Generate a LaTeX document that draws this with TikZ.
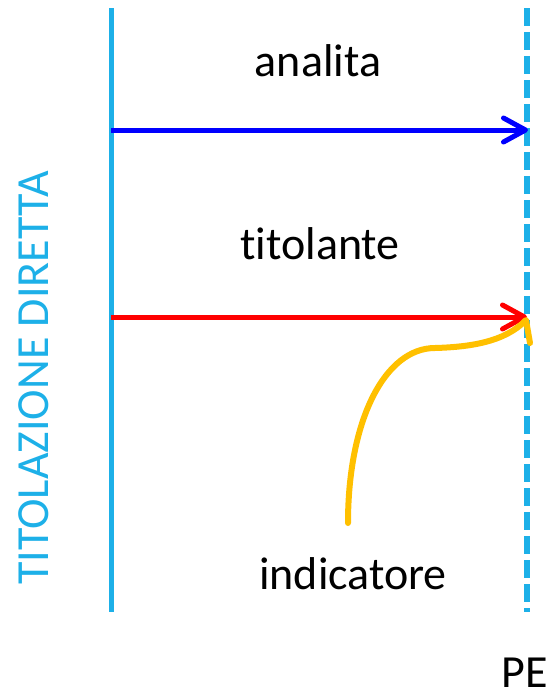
\documentclass[tikz,border=0pt]{standalone}
\usepackage{fontspec}
\setmainfont{Carlito}[Ligatures={NoCommon}]
\usetikzlibrary{arrows.meta}
\definecolor{lineblue}{RGB}{29,176,232}
\definecolor{arrowblue}{RGB}{0,0,255}
\definecolor{arrowred}{RGB}{255,0,0}
\definecolor{indorange}{RGB}{255,192,0}
\begin{document}
\begin{tikzpicture}[x=1pt,y=-1pt,
  lbl/.style={font=\fontsize{46}{54}\selectfont, inner sep=0pt, anchor=base},
  flow/.style={line width=5pt, -{Straight Barb[length=22pt,width=24pt,round]}},
  ]
\useasboundingbox (0,0) rectangle (551,691);
% vertical lines
\coordinate (Ltop) at (111,8);
\coordinate (Lbot) at (111,612);
\coordinate (Rtop) at (527,8);
\coordinate (Rbot) at (527,612);
\draw[lineblue, line width=5pt] (Ltop) -- (Lbot);
\draw[lineblue, line width=6pt, dash pattern=on 18pt off 6pt] (Rtop) -- (Rbot);
% arrows
\coordinate (A1) at (111,130);
\coordinate (A2) at (528,130);
\coordinate (T1) at (111,317);
\coordinate (T2) at (527,317);
\draw[flow, arrowblue] (A1) -- (A2);
\draw[flow, arrowred] (T1) -- (T2);
% indicator curve
\coordinate (I0) at (348,523);
\coordinate (I1) at (435,348);
\coordinate (I2) at (526,320);
\coordinate (I3) at (530,343);
\draw[indorange, line width=6pt, line cap=round, line join=round]
  (I0) .. controls (348,420) and (385,348) .. (I1)
  .. controls (470,347) and (505,342) .. (I2) -- (I3);
% labels
\node[lbl] (analita) at (318,76) {analita};
\node[lbl] (titolante) at (320,259) {titolante};
\node[lbl] (indicatore) at (353,589) {indicatore};
\node[lbl] (pe) at (525,687) {PE};
\node[lbl, text=lineblue, rotate=90, anchor=base] (tit) at (48,378) {TITOLAZIONE DIRETTA};
\end{tikzpicture}
\end{document}
